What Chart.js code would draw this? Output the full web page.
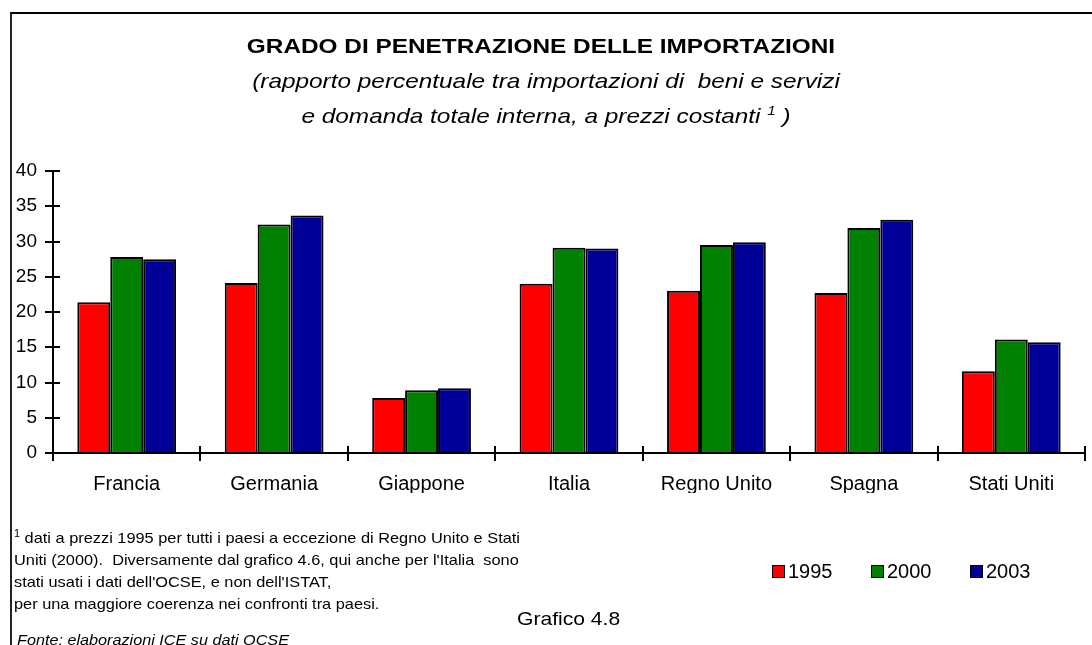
<!DOCTYPE html>
<html>
<head>
<meta charset="utf-8">
<script src="https://cdn.jsdelivr.net/npm/chart.js@4.4.1/dist/chart.umd.min.js"></script>
<style>
  html, body { margin: 0; padding: 0; background: #fff; }
  body { width: 1092px; height: 645px; position: relative; overflow: hidden;
         font-family: "Liberation Sans", Arial, sans-serif; color: #000; }
  #frame { position: absolute; left: 10px; top: 12px; width: 1100px; height: 700px;
           border-left: 2px solid #222; border-top: 2px solid #000; }
  #chartBox { position: absolute; left: 0; top: 0; width: 1092px; height: 645px; }
  .txt { position: absolute; white-space: pre; }
  .wide { transform-origin: center; }
  #title { left: 0; width: 1082px; top: 34px; text-align: center; font-weight: bold; font-size: 21px;
           transform: scaleX(1.16); }
  .sub { left: 0; width: 1092px; text-align: center; font-style: italic; font-size: 21px;
         transform: scaleX(1.16); }
  #note { left: 14px; top: 527px; font-size: 15px; line-height: 22px; transform-origin: left;
          transform: scaleX(1.09); }
  #note sup { font-size: 10px; vertical-align: 6px; line-height: 0; }
  #grafico { left: 517px; top: 608px; font-size: 19px; transform-origin: left; transform: scaleX(1.11); }
  #fonte { left: 17px; top: 631px; font-size: 15px; font-style: italic; transform-origin: left;
           transform: scaleX(1.08); }
  #legend { position: absolute; left: 772px; top: 560px; display: flex; font-size: 20px; }
  .item { width: 99px; display: flex; align-items: center; }
  .box { width: 11px; height: 11px; border: 1.5px solid #000; margin-right: 3px; }
</style>
</head>
<body>
<div id="frame"></div>
<div id="chartBox"><canvas id="chartImport" width="1092" height="645"></canvas></div>

<div class="txt wide" id="title">GRADO DI PENETRAZIONE DELLE IMPORTAZIONI</div>
<div class="txt sub wide" style="top:69px">(rapporto percentuale tra importazioni di  beni e servizi</div>
<div class="txt sub wide" style="top:103px">e domanda totale interna, a prezzi costanti <sup style="font-size:13px">1</sup> )</div>

<div class="txt" id="note"><sup>1</sup> dati a prezzi 1995 per tutti i paesi a eccezione di Regno Unito e Stati
Uniti (2000).  Diversamente dal grafico 4.6, qui anche per l'Italia  sono
stati usati i dati dell'OCSE, e non dell'ISTAT,
per una maggiore coerenza nei confronti tra paesi.</div>
<div class="txt" id="grafico">Grafico 4.8</div>
<div class="txt" id="fonte">Fonte: elaborazioni ICE su dati OCSE</div>
<div id="legend"></div>

<script>
// Paesi e valori (% importazioni su domanda interna)
const paesi = ['Francia', 'Germania', 'Giappone', 'Italia', 'Regno Unito', 'Spagna', 'Stati Uniti'];
const anni = ['1995', '2000', '2003'];
const colori = ['#ff0000', '#008000', '#000099'];
const val1995 = [21.4, 24.1, 7.8, 24.0, 23.0, 22.7, 11.6];
const val2000 = [27.8, 32.4, 8.9, 29.1, 29.5, 31.9, 16.1];
const val2003 = [27.5, 33.7, 9.2, 29.0, 29.9, 33.1, 15.7];
const yTicks = [0, 5, 10, 15, 20, 25, 30, 35, 40];

const serie = [val1995, val2000, val2003];

// tacche che attraversano gli assi (la parte interna)
const tickInterne = {
    id: 'tickInterne',
    afterDraw(chart) {
        const ctx = chart.ctx, a = chart.chartArea;
        const x = chart.scales.x, y = chart.scales.y;
        ctx.save();
        ctx.strokeStyle = '#000';
        ctx.lineWidth = 2;
        ctx.beginPath();
        y.ticks.forEach(t => {
            let py = Math.round(y.getPixelForValue(t.value));
            ctx.moveTo(a.left, py);
            ctx.lineTo(a.left + 7, py);
        });
        let w = (x.right - x.left) / paesi.length;
        for (let i = 1; i <= paesi.length; i++) {
            let px = Math.round(x.left + i * w);
            ctx.moveTo(px, a.bottom);
            ctx.lineTo(px, a.bottom - 7);
        }
        ctx.stroke();
        ctx.restore();
    }
};

Chart.defaults.font.family = '"Liberation Sans", Arial, sans-serif';
Chart.defaults.color = '#000';

let ctx = document.getElementById('chartImport').getContext('2d');
let chart = new Chart(ctx, {
    type: 'bar',
    data: {
        labels: paesi,
        datasets: anni.map((a, i) => ({
            label: a,
            data: serie[i],
            backgroundColor: colori[i],
            borderColor: '#000',
            borderWidth: 2,
            categoryPercentage: 0.67,
            barPercentage: 1.0
        }))
    },
    options: {
        responsive: false,
        animation: false,
        layout: { padding: { top: 171, left: 0, right: 7, bottom: 152 } },
        plugins: { legend: { display: false }, tooltip: { enabled: false } },
        scales: {
            x: {
                grid: { offset: true, drawOnChartArea: false, drawTicks: true, tickLength: 8, color: '#000', lineWidth: 2 },
                border: { display: true, color: '#000', width: 2 },
                ticks: { font: { size: 20 }, padding: 11, maxRotation: 0 },
                afterFit(scale) { scale.height = 40; }
            },
            y: {
                min: 0, max: 40,
                afterBuildTicks(scale) { scale.ticks = yTicks.map(v => ({ value: v })); },
                grid: { drawOnChartArea: false, drawTicks: true, tickLength: 8, color: '#000', lineWidth: 2 },
                border: { display: true, color: '#000', width: 2 },
                ticks: { font: { size: 19 }, padding: 8 },
                afterFit(scale) { scale.width = 53; }
            }
        }
    },
    plugins: [tickInterne]
});

// legenda costruita dai dataset
let leg = document.getElementById('legend');
chart.data.datasets.forEach(ds => {
    let it = document.createElement('div');
    it.className = 'item';
    it.innerHTML = `<span class="box" style="background:${ds.backgroundColor}"></span><span>${ds.label}</span>`;
    leg.appendChild(it);
});
</script>
</body>
</html>
